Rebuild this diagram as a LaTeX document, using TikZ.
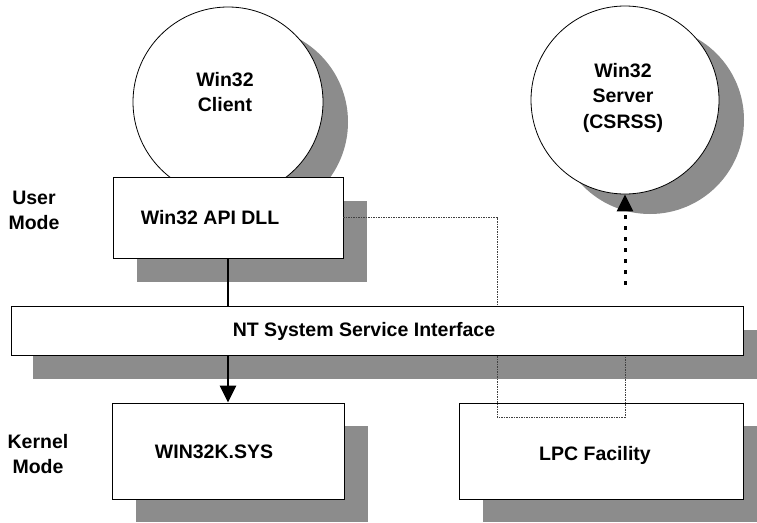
\documentclass[tikz,border=0pt]{standalone}
\usepackage{fontspec}
\setmainfont{Liberation Sans}
\usetikzlibrary{arrows.meta}
\begin{document}
\begin{tikzpicture}[x=1pt,y=-1pt,
  box/.style={draw=black, line width=0.8pt, fill=white, inner sep=0pt},
  shadowfill/.style={fill=black!45, draw=none, inner sep=0pt},
  lbl/.style={font=\fontsize{19.5}{25.5}\selectfont\bfseries, align=center, inner sep=0pt},
  dllsize/.style={rectangle, minimum width=230pt, minimum height=81pt},
  ntsize/.style={rectangle, minimum width=732pt, minimum height=49pt},
  kernsize/.style={rectangle, minimum width=232pt, minimum height=96pt},
  lpcsize/.style={rectangle, minimum width=284pt, minimum height=96pt},
  clientsize/.style={circle, minimum size=190pt},
  serversize/.style={circle, minimum size=188pt},
  mainarrow/.style={line width=2.5pt, -{Triangle[width=16pt,length=17pt]}},
  lpcpath/.style={line width=0.7pt, black!75, dash pattern=on 1.2pt off 1.3pt},
  srvarrow/.style={line width=3pt, dash pattern=on 4pt off 7pt, -{Triangle[width=16pt,length=17pt]}}
]
\clip (0,0) rectangle (757,522);
\fill[white] (0,0) rectangle (757,522);

% shadows
\node[shadowfill, clientsize] (clientsh) at (253,122) {};
\node[shadowfill, serversize] (serversh) at (650,120) {};
\node[shadowfill, dllsize] (dllsh) at (252,241.5) {};
\node[shadowfill, ntsize] (ntsh) at (399,354.5) {};
\node[shadowfill, kernsize] (kernsh) at (252,474) {};
\node[shadowfill, lpcsize] (lpcsh) at (625,474) {};

% shapes
\node[box, clientsize] (client) at (228,102) {};
\node[box, serversize] (server) at (625,100) {};
\node[box, dllsize] (dll) at (228,217.5) {};
\node[box, kernsize] (kern) at (228,451) {};
\node[box, lpcsize] (lpc) at (601,451) {};

% connectors
\coordinate (c1) at (497,217.5);
\coordinate (c2) at (497,417);
\coordinate (c3) at (625,417);
\coordinate (c4) at (625,340);
\coordinate (c5) at (625,285);
\draw[mainarrow] (dll.south) -- (kern.north);
\draw[lpcpath] (dll.east) -- (c1) -- (c2) -- (c3) -- (c4);
\draw[srvarrow] (c5) -- (server.south);

\node[box, ntsize] (nt) at (377,330.5) {};

% texts
\node[lbl] (clienttxt) at (225,92) {Win32\\Client};
\node[lbl] (servertxt) at (623,97.5) {Win32\\Server\\(CSRSS)};
\node[lbl, anchor=base] (dlltxt) at (210,224) {Win32 API DLL};
\node[lbl, anchor=base] (nttxt) at (364,336) {NT System Service Interface};
\node[lbl, anchor=base] (kerntxt) at (214,458) {WIN32K.SYS};
\node[lbl, anchor=base] (lpctxt) at (595,460) {LPC Facility};
\node[lbl] (usertxt) at (34,210.5) {User\\Mode};
\node[lbl] (kerneltxt) at (38,454) {Kernel\\Mode};
\end{tikzpicture}
\end{document}
